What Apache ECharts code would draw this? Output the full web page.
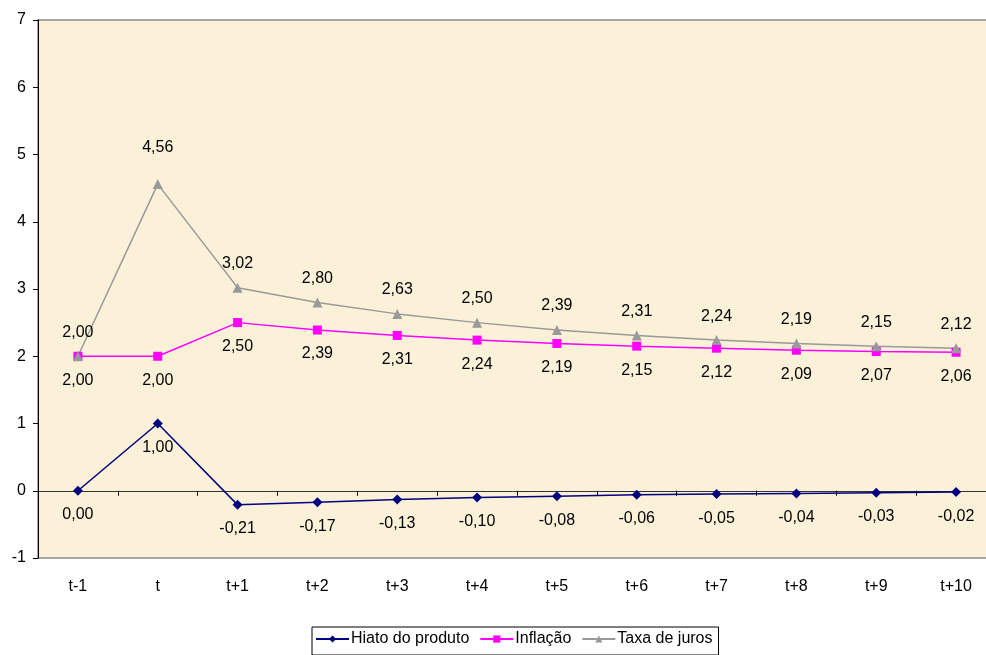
<!DOCTYPE html>
<html><head><meta charset="utf-8">
<script src="https://cdn.jsdelivr.net/npm/echarts@6/dist/echarts.min.js"></script>
<style>html,body{margin:0;padding:0;background:#fff}#c{width:986px;height:655px}</style>
</head><body><div id="c"></div>
<script>
const categories = ['t-1','t','t+1','t+2','t+3','t+4','t+5','t+6','t+7','t+8','t+9','t+10'];
const hiato = [0.00, 1.00, -0.21, -0.17, -0.13, -0.10, -0.08, -0.06, -0.05, -0.04, -0.03, -0.02];
const inflacao = [2.00, 2.00, 2.50, 2.39, 2.31, 2.24, 2.19, 2.15, 2.12, 2.09, 2.07, 2.06];
const taxa = [2.00, 4.56, 3.02, 2.80, 2.63, 2.50, 2.39, 2.31, 2.24, 2.19, 2.15, 2.12];
const seriesNames = ['Hiato do produto', 'Inflação', 'Taxa de juros'];

const FONT = 'Liberation Sans, Arial, sans-serif';
const fmt = v => v.toFixed(2).replace('.', ',');
const chart = echarts.init(document.getElementById('c'));
function lbl(dy){
  return {show:true, position:'inside', offset:[0,dy], color:'#000', fontSize:16, fontFamily:FONT,
    formatter:p=>fmt(p.value)};
}
chart.setOption({
  animation:false,
  backgroundColor:'#fff',
  grid:{left:38, top:20, width:958, height:538, containLabel:false, outerBoundsMode:'none',
    show:true, backgroundColor:'#FBF1D9', borderColor:'#8c8c8c', borderWidth:1.5},
  legend:{
    data:seriesNames, top:627, left:312, itemGap:10, itemWidth:33, itemHeight:9,
    borderColor:'#000', borderWidth:1, padding:[4,6,8,3], borderRadius:0,
    textStyle:{fontSize:16, fontFamily:FONT, color:'#000', padding:[0,0,0,-3]}
  },
  xAxis:[
    {type:'category', data:categories, boundaryGap:true,
     axisLine:{onZero:true, lineStyle:{color:'#333', width:1}},
     axisTick:{show:true, length:5, lineStyle:{color:'#000'}},
     axisLabel:{show:false}},
    {type:'category', data:categories, boundaryGap:true, position:'bottom',
     axisLine:{show:false}, axisTick:{show:false},
     axisLabel:{show:true, margin:21, fontSize:16, fontFamily:FONT, color:'#000'}}
  ],
  yAxis:{type:'value', min:-1, max:7, interval:1,
    axisLine:{show:true, lineStyle:{color:'#000'}},
    axisTick:{show:true, length:5, lineStyle:{color:'#000'}},
    splitLine:{show:false},
    axisLabel:{margin:12, fontSize:16, fontFamily:FONT, color:'#000'}},
  series:[
    {name:seriesNames[0], type:'line', data:hiato, xAxisIndex:0, symbol:'diamond', symbolSize:10,
     lineStyle:{color:'#000080', width:1.5}, itemStyle:{color:'#000080'}, label:lbl(24)},
    {name:seriesNames[1], type:'line', data:inflacao, xAxisIndex:0, symbol:'rect', symbolSize:9,
     lineStyle:{color:'#FF00FF', width:1.5}, itemStyle:{color:'#FF00FF'}, label:lbl(24)},
    {name:seriesNames[2], type:'line', xAxisIndex:0, symbol:'triangle', symbolSize:10,
     data:taxa.map((v,i)=> i===1 ? {value:v, label:{offset:[0,-36]}} : v),
     lineStyle:{color:'#999999', width:1.5}, itemStyle:{color:'#999999'}, label:lbl(-24)}
  ]
});
</script></body></html>
